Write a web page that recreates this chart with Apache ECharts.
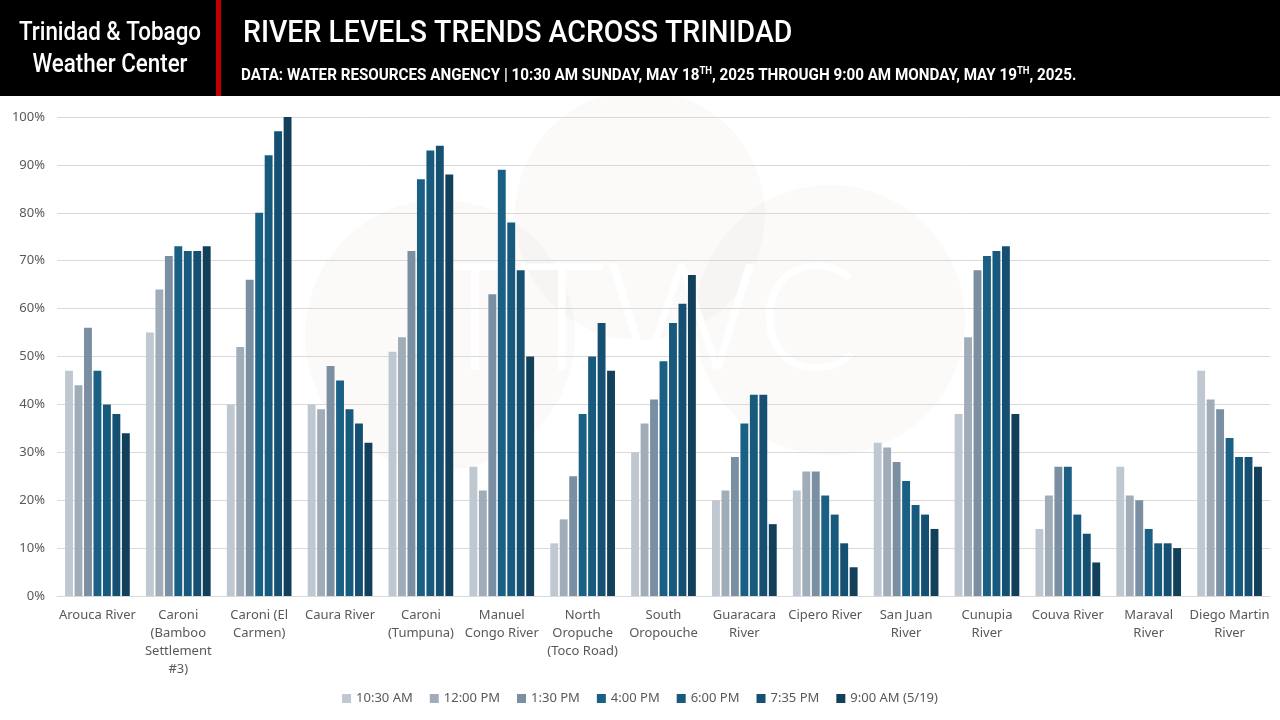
<!DOCTYPE html>
<html>
<head>
<meta charset="utf-8">
<title>River levels trends across Trinidad</title>
<script src="https://cdn.jsdelivr.net/npm/echarts@6/dist/echarts.min.js"></script>
<style>
  html, body { margin: 0; padding: 0; background: #fff; }
  #main { width: 1280px; height: 720px; }
</style>
</head>
<body>
<div id="main"></div>
<script>
// rivers (line breaks follow the wrapping in the original chart)
const rivers = [
  "Arouca River",
  "Caroni\n(Bamboo\nSettlement\n#3)",
  "Caroni (El\nCarmen)",
  "Caura River",
  "Caroni\n(Tumpuna)",
  "Manuel\nCongo River",
  "North\nOropuche\n(Toco Road)",
  "South\nOropouche",
  "Guaracara\nRiver",
  "Cipero River",
  "San Juan\nRiver",
  "Cunupia\nRiver",
  "Couva River",
  "Maraval\nRiver",
  "Diego Martin\nRiver"
];

const times = ["10:30 AM", "12:00 PM", "1:30 PM", "4:00 PM", "6:00 PM", "7:35 PM", "9:00 AM (5/19)"];

// river level (% of bank full) per reading time, one value per river
const t1030 = [47, 55, 40, 40, 51, 27, 11, 30, 20, 22, 32, 38, 14, 27, 47];
const t1200 = [44, 64, 52, 39, 54, 22, 16, 36, 22, 26, 31, 54, 21, 21, 41];
const t1330 = [56, 71, 66, 48, 72, 63, 25, 41, 29, 26, 28, 68, 27, 20, 39];
const t1600 = [47, 73, 80, 45, 87, 89, 38, 49, 36, 21, 24, 71, 27, 14, 33];
const t1800 = [40, 72, 92, 39, 93, 78, 50, 57, 42, 17, 19, 72, 17, 11, 29];
const t1935 = [38, 72, 97, 36, 94, 68, 57, 61, 42, 11, 17, 73, 13, 11, 29];
const t0900 = [34, 73, 100, 32, 88, 50, 47, 67, 15, 6, 14, 38, 7, 10, 27];

const yTicks = [0, 10, 20, 30, 40, 50, 60, 70, 80, 90, 100];

const colors = ["#bfc8d0", "#a0adb9", "#7a8fa2", "#1a6085", "#175a7d", "#155073", "#123f5a"];

const values = [t1030, t1200, t1330, t1600, t1800, t1935, t0900];

let myChart = echarts.init(document.getElementById("main"));

const headFont = "'Roboto', 'Liberation Sans', sans-serif";
const wmFill = "rgba(210,195,190,0.09)";

myChart.setOption({
  animation: false,
  backgroundColor: "#ffffff",
  color: colors,
  graphic: [
    // faint watermark behind the plot
    { type: "circle", z: -10, silent: true, shape: { cx: 640, cy: 215, r: 125 }, style: { fill: wmFill } },
    { type: "circle", z: -10, silent: true, shape: { cx: 440, cy: 335, r: 135 }, style: { fill: wmFill } },
    { type: "circle", z: -10, silent: true, shape: { cx: 830, cy: 320, r: 135 }, style: { fill: wmFill } },
    { type: "text", z: -5, silent: true, x: 645, y: 322,
      style: { text: "TTWC", fill: "rgba(255,255,255,0.95)", align: "center", verticalAlign: "middle",
               fontFamily: "Lato", fontWeight: 300, fontSize: 150 } },
    // header band
    { type: "rect", z: 100, shape: { x: 0, y: 0, width: 1280, height: 96 }, style: { fill: "#000000" } },
    { type: "rect", z: 101, shape: { x: 216, y: 0, width: 5, height: 96 }, style: { fill: "#c00000" } },
    { type: "text", z: 102, x: 110, y: 17, scaleX: 0.86,
      style: { text: "Trinidad & Tobago\nWeather Center", fill: "#ffffff", align: "center",
               font: "500 26px " + headFont, lineHeight: 32 } },
    { type: "text", z: 102, x: 243, y: 18, scaleX: 0.89,
      style: { text: "RIVER LEVELS TRENDS ACROSS TRINIDAD", fill: "#ffffff",
               font: "500 32px " + headFont } },
    { type: "text", z: 102, x: 241, y: 66, scaleX: 0.95,
      style: {
        text: "{n|DATA: WATER RESOURCES ANGENCY | 10:30 AM SUNDAY, MAY 18}{s|TH}{n|, 2025 THROUGH 9:00 AM MONDAY, MAY 19}{s|TH}{n|, 2025.}",
        fill: "#ffffff",
        rich: {
          n: { fill: "#ffffff", fontFamily: headFont, fontWeight: "bold", fontSize: 16, lineHeight: 20 },
          s: { fill: "#ffffff", fontFamily: headFont, fontWeight: "bold", fontSize: 10, lineHeight: 20, verticalAlign: "top", padding: [0, 0, 8, 0] }
        }
      } }
  ],
  legend: {
    bottom: 10,
    left: "center",
    icon: "rect",
    itemWidth: 9,
    itemHeight: 9,
    itemGap: 17,
    textStyle: { color: "#595959", fontSize: 13, fontFamily: "'Noto Sans', sans-serif" },
    data: times
  },
  grid: { left: 57, right: 10, top: 117, bottom: 124, containLabel: false },
  xAxis: {
    type: "category",
    data: rivers,
    axisTick: { show: false },
    axisLine: { lineStyle: { color: "#d9d9d9" } },
    axisLabel: { color: "#595959", fontSize: 13, fontFamily: "'Noto Sans', sans-serif", lineHeight: 18, margin: 10, interval: 0 }
  },
  yAxis: {
    type: "value",
    min: 0,
    max: 100,
    interval: 10,
    axisLine: { show: false },
    axisTick: { show: false },
    splitLine: { lineStyle: { color: "#d9d9d9" } },
    axisLabel: {
      color: "#595959", fontSize: 13, fontFamily: "'Noto Sans', sans-serif", margin: 12,
      formatter: function (v) { return yTicks.indexOf(v) >= 0 ? v + "%" : ""; }
    }
  },
  series: times.map(function (name, i) {
    return {
      name: name,
      type: "bar",
      data: values[i],
      barGap: "20%",
      barCategoryGap: "20%"
    };
  })
});
</script>
</body>
</html>
